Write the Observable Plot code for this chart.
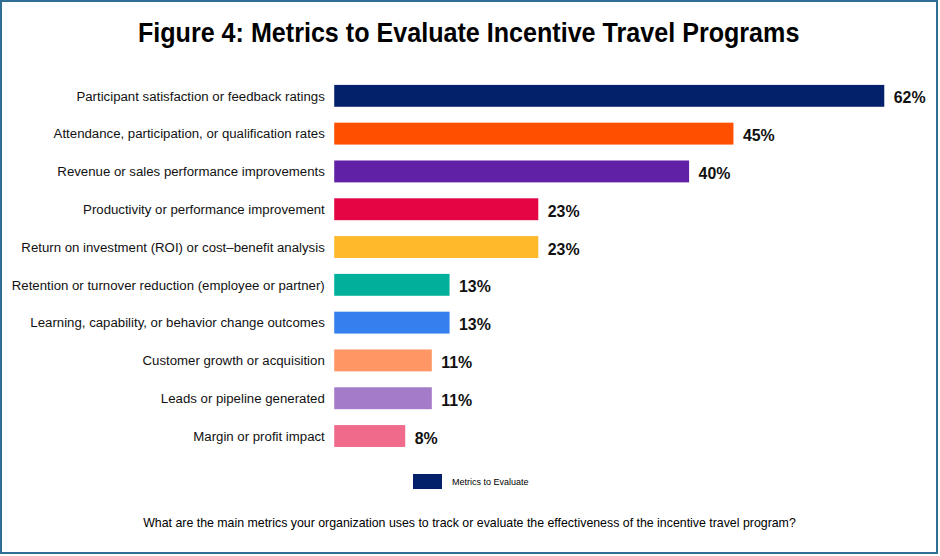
<!DOCTYPE html>
<html>
<head>
<meta charset="utf-8">
<script src="https://cdn.jsdelivr.net/npm/d3@7"></script>
<script src="https://cdn.jsdelivr.net/npm/@observablehq/plot@0.6"></script>
<style>
  html, body { margin: 0; padding: 0; background: #fff; }
  #frame {
    position: relative; box-sizing: border-box;
    width: 938px; height: 554px;
    border: 2px solid #2f6f95;
    background: #fff;
    font-family: "Liberation Sans", Arial, sans-serif;
    overflow: hidden;
  }
  #title {
    position: absolute; left: 0; top: 16px; width: 934px;
    text-align: center;
  }
  #title span {
    display: inline-block; transform: scaleX(0.93); transform-origin: center;
    font-weight: bold; font-size: 27px; color: #000; white-space: nowrap;
  }
  #chart { position: absolute; left: -1px; top: 64px; }
  #legend {
    position: absolute; left: 411px; top: 472px;
    display: flex; align-items: center; gap: 10px;
    font-size: 9px; color: #000;
  }
  #legend .sw { width: 29px; height: 15px; background: #03216a; }
  #caption {
    position: absolute; left: 0; top: 511px; width: 934px; text-align: center;
  }
  #caption span {
    display: inline-block; transform: scaleX(0.95); transform-origin: center;
    font-size: 13px; color: #000; white-space: nowrap;
  }
</style>
</head>
<body>
<div id="frame">
  <div id="title"><span id="titleText"></span></div>
  <div id="chart"></div>
  <div id="legend"><div class="sw"></div><span id="legendText"></span></div>
  <div id="caption"><span id="captionText"></span></div>
</div>
<script>
const titleText = "Figure 4: Metrics to Evaluate Incentive Travel Programs";
const legendLabel = "Metrics to Evaluate";
const captionText = "What are the main metrics your organization uses to track or evaluate the effectiveness of the incentive travel program?";

const categories = [
  "Participant satisfaction or feedback ratings",
  "Attendance, participation, or qualification rates",
  "Revenue or sales performance improvements",
  "Productivity or performance improvement",
  "Return on investment (ROI) or cost\u2013benefit analysis",
  "Retention or turnover reduction (employee or partner)",
  "Learning, capability, or behavior change outcomes",
  "Customer growth or acquisition",
  "Leads or pipeline generated",
  "Margin or profit impact"
];
const values = [62, 45, 40, 23, 23, 13, 13, 11, 11, 8];
const colors = ["#03216a", "#ff5000", "#6021a6", "#e60544", "#ffb92a", "#00b09a", "#3580ee", "#ff9664", "#a47bc8", "#f06a8c"];

document.getElementById("titleText").textContent = titleText;
document.getElementById("legendText").textContent = legendLabel;
document.getElementById("captionText").textContent = captionText;

const data = categories.map((c, i) => ({category: c, value: values[i], color: colors[i]}));

const plot = Plot.plot({
  width: 940,
  height: 402,
  marginLeft: 335,
  marginRight: 52,
  marginTop: 10,
  marginBottom: 10,
  style: {fontFamily: "'Liberation Sans', Arial, sans-serif", background: "transparent"},
  x: {domain: [0, 62], axis: null},
  y: {domain: categories, paddingInner: 0.41, paddingOuter: 0.205, label: null},
  marks: [
    Plot.barX(data, {y: "category", x: "value", fill: "color"}),
    Plot.text(data, {
      y: "category", x: "value", text: d => d.value + "%",
      textAnchor: "start", dx: 9, dy: 2, fontSize: 16, fontWeight: "bold", fill: "#111"
    }),
    Plot.axisY({tickSize: 0, tickPadding: 10, fontSize: 13.3, fill: "#111", label: null})
  ]
});
document.getElementById("chart").appendChild(plot);
</script>
</body>
</html>
